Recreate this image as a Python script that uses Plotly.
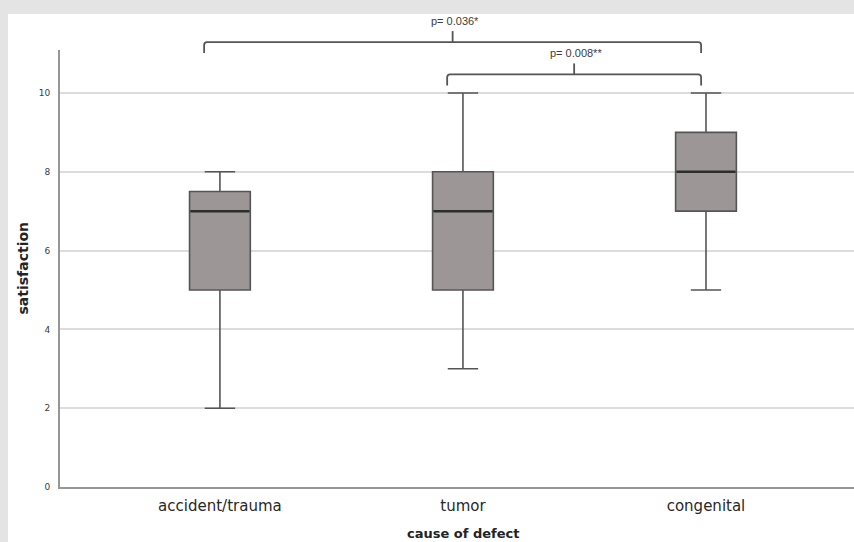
import plotly.graph_objects as go

# ---- data ----
categories = ["accident/trauma", "tumor", "congenital"]
lower_whisker = [2, 3, 5]
q1 = [5, 5, 7]
median = [7, 7, 8]
q3 = [7.5, 8, 9]
upper_whisker = [8, 10, 10]
y_ticks = [0, 2, 4, 6, 8, 10]
comparisons = [(0, 2, "p= 0.036*"), (1, 2, "p= 0.008**")]
bracket_levels = [11.29, 10.47]

# ---- layout geometry ----
W, H = 854, 542
ML, MR, MT, MB = 60, 0, 50, 55
XMIN, XMAX = -0.658, 2.609
YMIN, YMAX = 0, 11.09
BOXW = 0.25
plot_w = W - ML - MR
plot_h = H - MT - MB

def xp(x):
    return (x - XMIN) / (XMAX - XMIN)

def yp(y):
    return (y - YMIN) / (YMAX - YMIN)

xs = list(range(len(categories)))

fig = go.Figure()
fig.add_trace(go.Box(
    x=xs, q1=q1, median=median, q3=q3,
    lowerfence=lower_whisker, upperfence=upper_whisker,
    width=BOXW, whiskerwidth=0.5,
    fillcolor="rgb(156,150,150)",
    line=dict(color="rgb(85,85,85)", width=1.6),
    boxpoints=False, showlegend=False, hoverinfo="skip",
))
# thicker median lines
for i, m in zip(xs, median):
    fig.add_trace(go.Scatter(
        x=[i - BOXW / 2 + 0.004, i + BOXW / 2 - 0.004], y=[m, m], mode="lines",
        line=dict(color="rgb(45,45,45)", width=2.5),
        showlegend=False, hoverinfo="skip",
    ))

shapes = []
# grey frame with white panel
shapes.append(dict(type="rect", xref="paper", yref="paper", layer="below",
                   x0=(8 - ML) / plot_w, x1=(W + 10 - ML) / plot_w,
                   y0=-(H + 10 - MT - plot_h) / plot_h, y1=(plot_h + MT - 14) / plot_h,
                   fillcolor="white", line=dict(width=0)))

annotations = []
rx = 3 / plot_w
ry = 3 / plot_h
drop = 11 / plot_h
tick = 11 / plot_h
for (a, b, txt), lvl in zip(comparisons, bracket_levels):
    xl = xp(a - 0.065)
    xr = xp(b - 0.02)
    xc = (xl + xr) / 2
    yh = yp(lvl)
    path = (f"M {xl},{yh - drop} L {xl},{yh - ry} Q {xl},{yh} {xl + rx},{yh} "
            f"L {xr - rx},{yh} Q {xr},{yh} {xr},{yh - ry} L {xr},{yh - drop}")
    shapes.append(dict(type="path", xref="paper", yref="paper", path=path,
                       line=dict(color="rgb(85,85,85)", width=1.8)))
    shapes.append(dict(type="line", xref="paper", yref="paper",
                       x0=xc, x1=xc, y0=yh, y1=yh + tick,
                       line=dict(color="rgb(85,85,85)", width=1.8)))
    annotations.append(dict(xref="paper", yref="paper", x=xc + 2 / plot_w,
                            y=yh + 21 / plot_h, text=txt, showarrow=False,
                            xanchor="center", yanchor="middle",
                            font=dict(family="Liberation Sans", size=11, color="rgb(60,60,60)")))

annotations.append(dict(xref="x", yref="paper", x=1, y=-(533 - MT - plot_h) / plot_h,
                        text="<b>cause of defect</b>", showarrow=False,
                        xanchor="center", yanchor="middle",
                        font=dict(family="DejaVu Sans", size=13, color="rgb(35,35,35)")))
annotations.append(dict(xref="paper", yref="paper", x=(22 - ML) / plot_w, y=0.5,
                        text="<b>satisfaction</b>", showarrow=False, textangle=-90,
                        xanchor="center", yanchor="middle",
                        font=dict(family="DejaVu Sans", size=14, color="rgb(35,35,35)")))

fig.update_layout(
    width=W, height=H,
    margin=dict(l=ML, r=MR, t=MT, b=MB),
    paper_bgcolor="rgb(228,228,228)",
    plot_bgcolor="rgba(0,0,0,0)",
    shapes=shapes, annotations=annotations,
    xaxis=dict(range=[XMIN, XMAX], tickvals=xs, ticktext=categories,
               showgrid=False, zeroline=False, showline=True,
               linecolor="rgb(150,150,150)", linewidth=2, ticks="",
               ticklabelstandoff=4,
               tickfont=dict(family="DejaVu Sans", size=15, color="rgb(40,40,40)")),
    yaxis=dict(range=[YMIN, YMAX], tickvals=y_ticks,
               showgrid=True, gridcolor="rgb(220,220,220)", gridwidth=1.5,
               zeroline=False, showline=True,
               linecolor="rgb(150,150,150)", linewidth=2, ticks="",
               ticklabelstandoff=6,
               tickfont=dict(family="DejaVu Sans", size=9, color="rgb(60,60,60)")),
)

fig.write_html("out.html", config={"displayModeBar": False},
               post_script="document.body.style.margin='0px';document.body.style.overflow='hidden';")
